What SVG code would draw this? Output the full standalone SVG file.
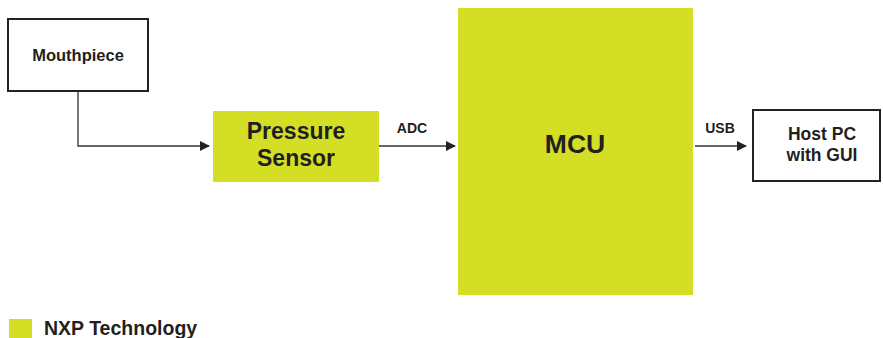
<svg xmlns="http://www.w3.org/2000/svg" width="883" height="338" viewBox="0 0 883 338">
<style>
.box{fill:#fff;stroke:#222;stroke-width:2}
.nxp{fill:#d3de24}
.t{font-family:"Liberation Sans",Arial,sans-serif;fill:#231f20;text-anchor:middle;font-weight:bold}
.conn{fill:none;stroke:#333;stroke-width:1.3}
</style>
<defs>
<marker id="ah" markerWidth="10" markerHeight="10" refX="9" refY="5" orient="auto" markerUnits="userSpaceOnUse">
<path d="M0,0 L10,5 L0,10 Z" fill="#222"/>
</marker>
</defs>
<rect width="883" height="338" fill="#fff"/>
<g id="connectors">
<path class="conn" d="M78,91 V146 H209" marker-end="url(#ah)"/>
<path class="conn" d="M379,146 H455" marker-end="url(#ah)"/>
<text class="t" x="412" y="133" font-size="14">ADC</text>
<path class="conn" d="M695,146 H746" marker-end="url(#ah)"/>
<text class="t" x="720" y="133" font-size="14">USB</text>
</g>
<g id="mouthpiece">
<rect class="box" x="8" y="19" width="140" height="72"/>
<text class="t" x="78" y="61" font-size="16.5">Mouthpiece</text>
</g>
<g id="pressure-sensor">
<rect class="nxp" x="213" y="111" width="166" height="71"/>
<text class="t" x="296" y="139" font-size="23">Pressure</text>
<text class="t" x="296" y="166" font-size="23">Sensor</text>
</g>
<g id="mcu">
<rect class="nxp" x="458" y="8" width="235" height="287"/>
<text class="t" x="575" y="153" font-size="26.5">MCU</text>
</g>
<g id="host-pc">
<rect class="box" x="753" y="110" width="127" height="71"/>
<text class="t" x="822" y="140" font-size="17.5">Host PC</text>
<text class="t" x="822" y="161" font-size="17.5">with GUI</text>
</g>
<g id="legend">
<rect class="nxp" x="9" y="319" width="23" height="19"/>
<text class="t" x="44" y="335" font-size="19.5" style="text-anchor:start">NXP Technology</text>
</g>
</svg>
